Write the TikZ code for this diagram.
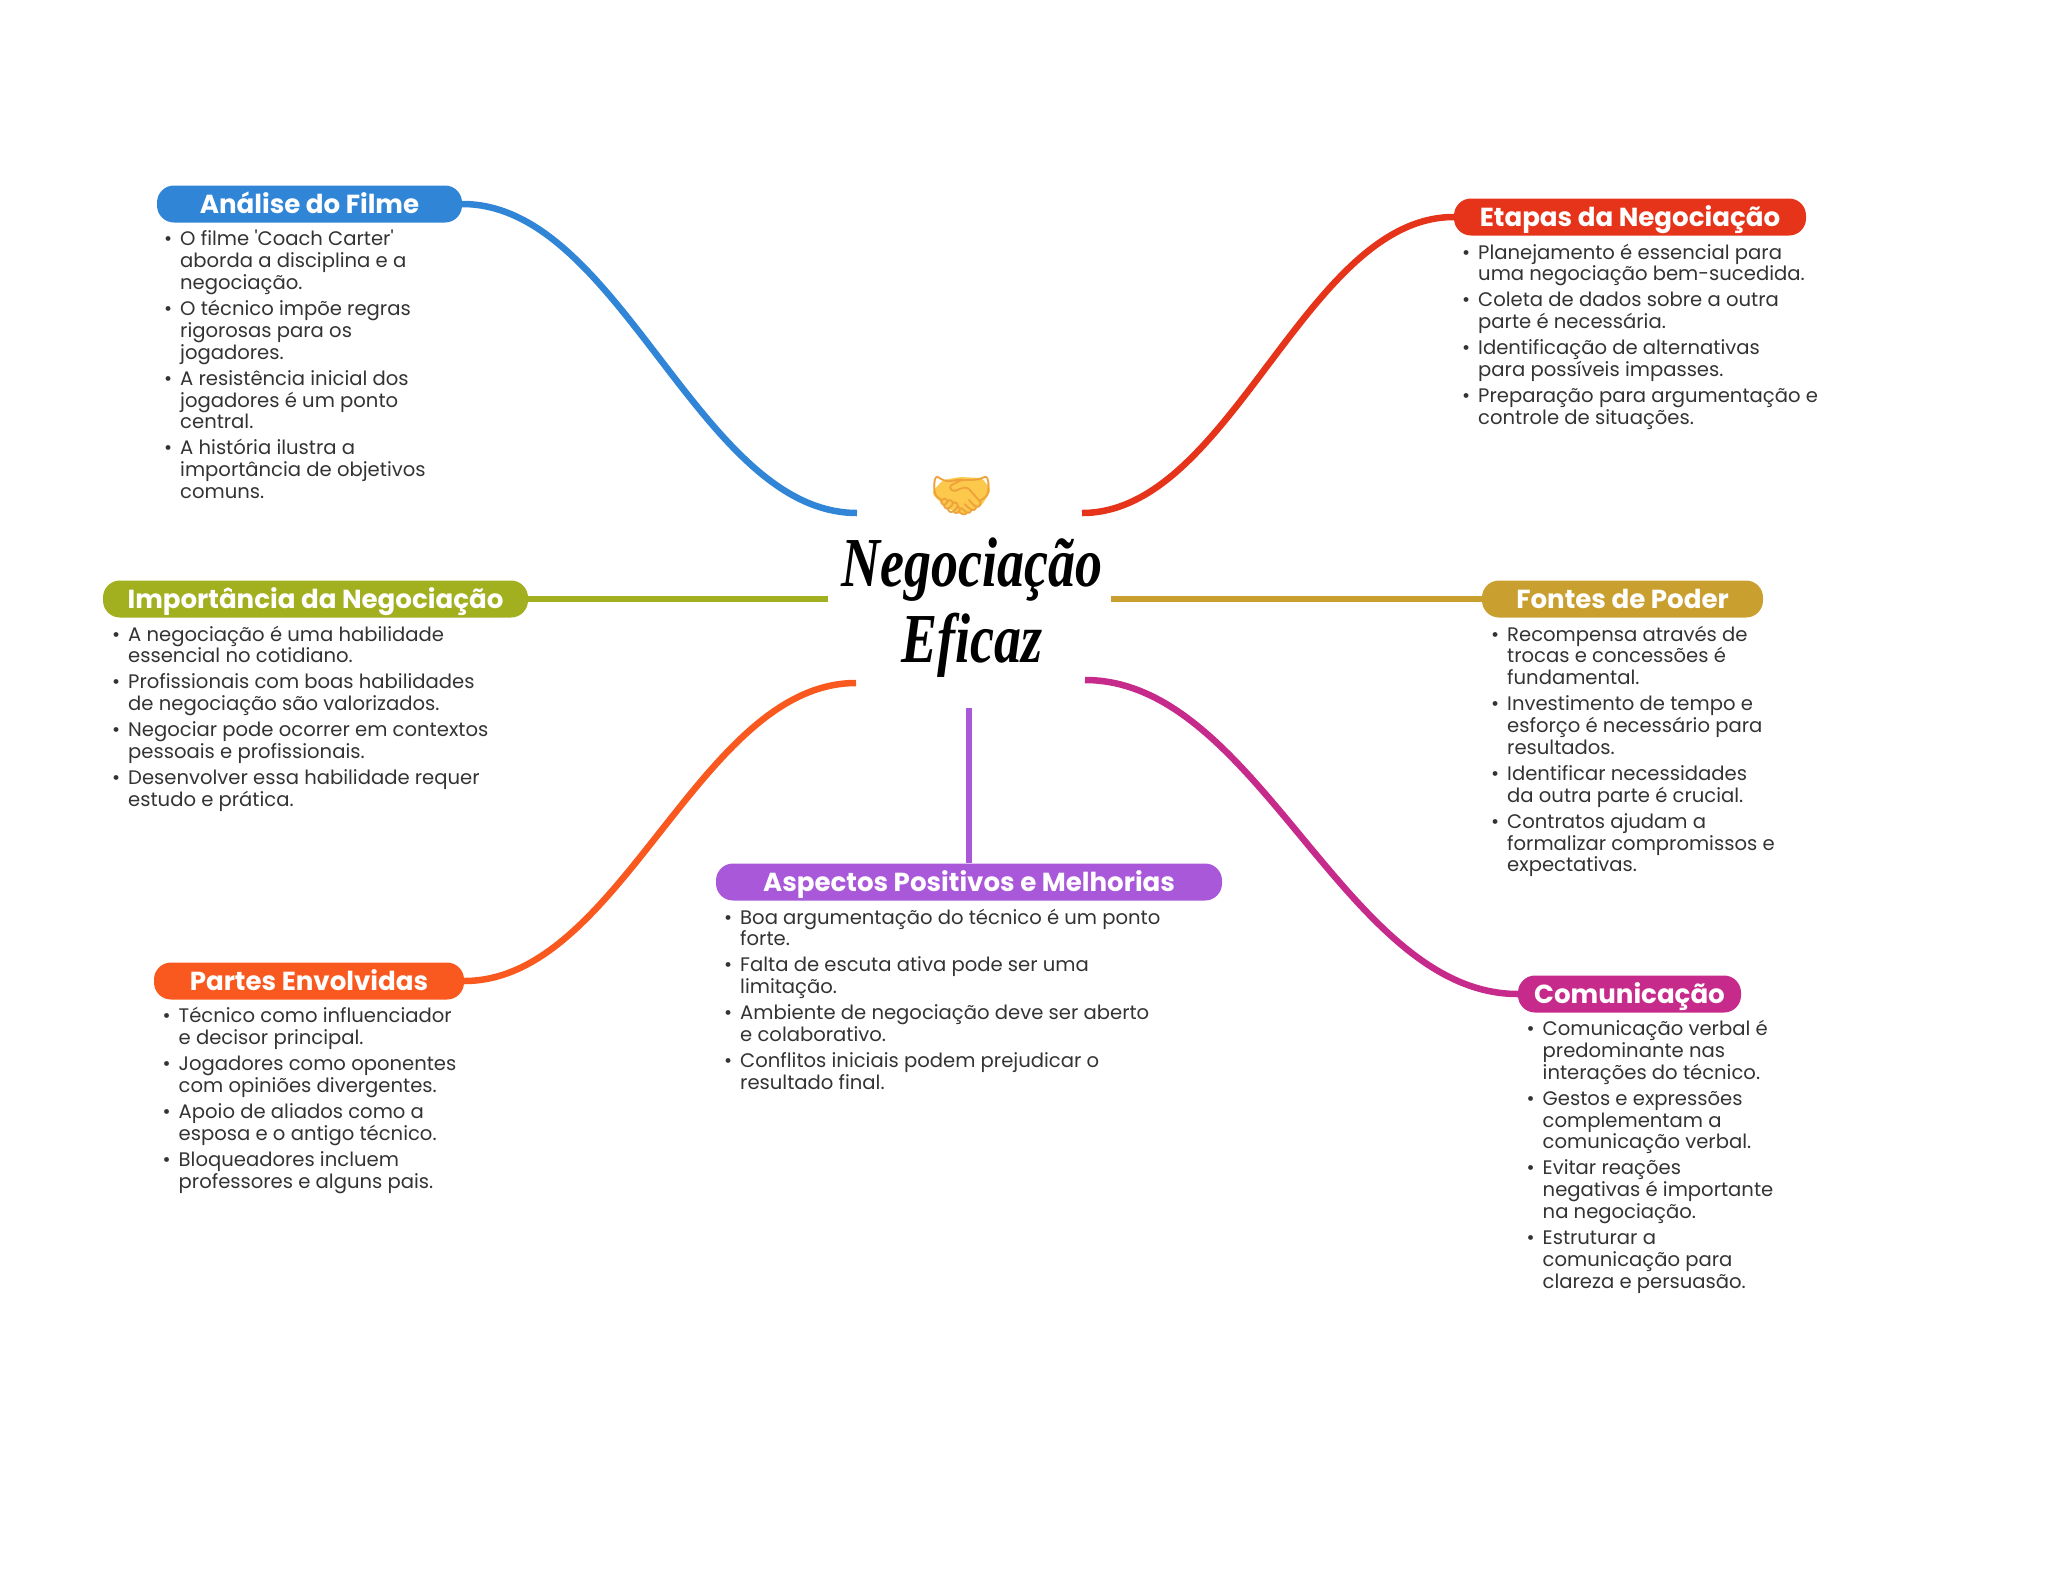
\documentclass[tikz,border=0pt]{standalone}
\usepackage{fontspec}
\newfontfamily\popfont{Poppins}
\newfontfamily\titlefont{Liberation Serif}
\newfontfamily\emojifont{Noto Emoji}
\usetikzlibrary{positioning}

\definecolor{filmblue}{HTML}{3085D6}
\definecolor{stepred}{HTML}{E5341A}
\definecolor{importolive}{HTML}{A2AF1E}
\definecolor{powergold}{HTML}{C9A02F}
\definecolor{aspectpurple}{HTML}{A858D8}
\definecolor{partorange}{HTML}{F9591F}
\definecolor{commmagenta}{HTML}{C62A8A}
\definecolor{listgray}{HTML}{333333}
\definecolor{shakeyellow}{HTML}{FDC94C}
\definecolor{shakeline}{HTML}{EDA23A}

\newcommand{\itm}{\llap{\textbullet\hspace{8pt}}}

\tikzset{
  headbox/.style={rounded corners=17pt, text=white, inner sep=0pt, minimum height=37pt,
    text height=21pt, text depth=2pt,
    font=\popfont\bfseries\fontsize{26.1}{30}\selectfont},
  listbox/.style={anchor=north west, inner sep=0pt, align=left, text=listgray,
    font=\popfont\fontsize{19.6}{21.8}\selectfont},
  link/.style={line width=6.5pt},
}

\begin{document}
\begin{tikzpicture}[x=1pt, y=-1pt]
  \useasboundingbox (0,0) rectangle (2048,1569);

  % centre
  \fill[shakeyellow, rounded corners=3pt] (932,492) -- (943,480) -- (960,477) -- (982,478) -- (991,490)
    -- (982,505) -- (963,515) -- (947,508) -- (935,497) -- cycle;
  \node[font=\emojifont\fontsize{51}{51}\selectfont, text=shakeline] (shake) at (961.5,496) {🤝};
  \node[font=\titlefont\bfseries\itshape\fontsize{54}{76}\selectfont, align=center] (title) at (972,608)
    {\scalebox{1}[1.3]{Negociação}\\\scalebox{1}[1.3]{Eficaz}};
  \coordinate (filmEnd) at (857,513);
  \coordinate (stepEnd) at (1082,513);
  \coordinate (importEnd) at (828,599);
  \coordinate (powerEnd) at (1111,599);
  \coordinate (partEnd) at (856,683);
  \coordinate (commEnd) at (1085,680);
  \coordinate (aspectEnd) at (969,708);

  % branches
  \node[headbox, fill=filmblue, minimum width=305pt] (filmHead) at (309.5,204) {Análise do Filme};
  \node[headbox, fill=stepred, minimum width=352pt] (stepHead) at (1630,217) {Etapas da Negociação};
  \node[headbox, fill=importolive, minimum width=425pt] (importHead) at (315.5,599) {Importância da Negociação};
  \node[headbox, fill=powergold, minimum width=281pt] (powerHead) at (1622.5,599) {Fontes de Poder};
  \node[headbox, fill=aspectpurple, minimum width=506pt] (aspectHead) at (969,882) {Aspectos Positivos e Melhorias};
  \node[headbox, fill=partorange, minimum width=310pt] (partHead) at (309,981) {Partes Envolvidas};
  \node[headbox, fill=commmagenta, minimum width=223pt] (commHead) at (1629.5,994) {Comunicação};

  \draw[link, filmblue] (filmHead.east) .. controls (620,204) and (699,513) .. (filmEnd);
  \draw[link, stepred] (stepHead.west) .. controls (1305,217) and (1231,513) .. (stepEnd);
  \draw[link, importolive] (importHead.east) -- (importEnd);
  \draw[link, powergold] (powerHead.west) -- (powerEnd);
  \draw[link, aspectpurple] (aspectHead.north) -- (aspectEnd);
  \draw[link, partorange] (partHead.east) .. controls (621,981) and (699,683) .. (partEnd);
  \draw[link, commmagenta] (commHead.west) .. controls (1345,994) and (1258,680) .. (commEnd);

  % lists
  \node[listbox] (filmList) at (180,230) {\itm O filme 'Coach Carter'\\aborda a disciplina e a\\negociação.\\[4.3pt]
    \itm O técnico impõe regras\\rigorosas para os\\jogadores.\\[4.3pt]
    \itm A resistência inicial dos\\jogadores é um ponto\\central.\\[4.3pt]
    \itm A história ilustra a\\importância de objetivos\\comuns.};
  \node[listbox] (stepList) at (1478,243.5) {\itm Planejamento é essencial para\\uma negociação bem-sucedida.\\[4.3pt]
    \itm Coleta de dados sobre a outra\\parte é necessária.\\[4.3pt]
    \itm Identificação de alternativas\\para possíveis impasses.\\[4.3pt]
    \itm Preparação para argumentação e\\controle de situações.};
  \node[listbox] (importList) at (128,625.5) {\itm A negociação é uma habilidade\\essencial no cotidiano.\\[4.3pt]
    \itm Profissionais com boas habilidades\\de negociação são valorizados.\\[4.3pt]
    \itm Negociar pode ocorrer em contextos\\pessoais e profissionais.\\[4.3pt]
    \itm Desenvolver essa habilidade requer\\estudo e prática.};
  \node[listbox] (powerList) at (1507,625.5) {\itm Recompensa através de\\trocas e concessões é\\fundamental.\\[4.3pt]
    \itm Investimento de tempo e\\esforço é necessário para\\resultados.\\[4.3pt]
    \itm Identificar necessidades\\da outra parte é crucial.\\[4.3pt]
    \itm Contratos ajudam a\\formalizar compromissos e\\expectativas.};
  \node[listbox] (aspectList) at (740,908.5) {\itm Boa argumentação do técnico é um ponto\\forte.\\[4.3pt]
    \itm Falta de escuta ativa pode ser uma\\limitação.\\[4.3pt]
    \itm Ambiente de negociação deve ser aberto\\e colaborativo.\\[4.3pt]
    \itm Conflitos iniciais podem prejudicar o\\resultado final.};
  \node[listbox] (partList) at (178.5,1007) {\itm Técnico como influenciador\\e decisor principal.\\[4.3pt]
    \itm Jogadores como oponentes\\com opiniões divergentes.\\[4.3pt]
    \itm Apoio de aliados como a\\esposa e o antigo técnico.\\[4.3pt]
    \itm Bloqueadores incluem\\professores e alguns pais.};
  \node[listbox] (commList) at (1542.5,1020) {\itm Comunicação verbal é\\predominante nas\\interações do técnico.\\[4.3pt]
    \itm Gestos e expressões\\complementam a\\comunicação verbal.\\[4.3pt]
    \itm Evitar reações\\negativas é importante\\na negociação.\\[4.3pt]
    \itm Estruturar a\\comunicação para\\clareza e persuasão.};
\end{tikzpicture}
\end{document}
